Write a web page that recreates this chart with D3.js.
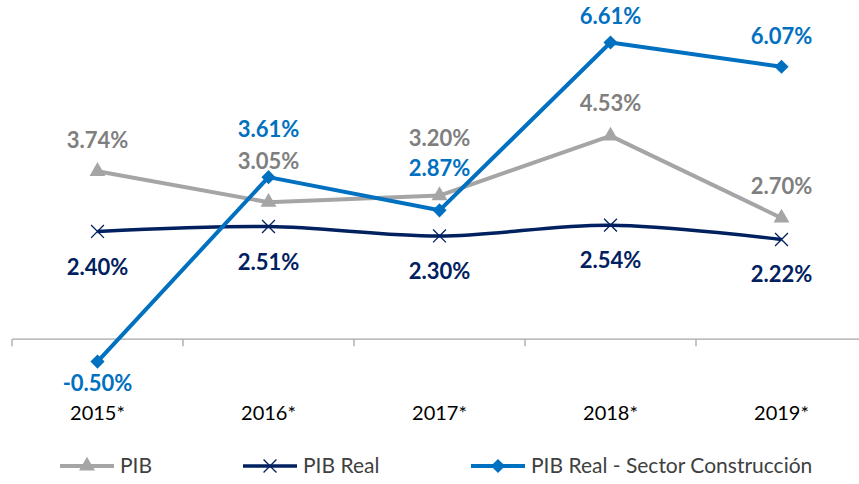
<!DOCTYPE html>
<html lang="es">
<head>
<meta charset="utf-8">
<title>PIB vs PIB Construcción</title>
<script src="https://d3js.org/d3.v7.min.js"></script>
<style>
  body { margin: 0; background: #fff; }
  text { font-family: Lato, "Open Sans", sans-serif; }
</style>
</head>
<body>
<div id="chart"></div>
<script>
// data
var years = ["2015*", "2016*", "2017*", "2018*", "2019*"];
var pib = [3.74, 3.05, 3.20, 4.53, 2.70];
var pibReal = [2.40, 2.51, 2.30, 2.54, 2.22];
var pibConstruccion = [-0.50, 3.61, 2.87, 6.61, 6.07];
var seriesNames = ["PIB", "PIB Real", "PIB Real - Sector Construcción"];

// manual label nudges (px) like in the original sheet
var pibDy = [-31, -41, -58, -33, -32];
var realDy = [36, 36, 35, 35, 34];
var consDy = [21, -48, -42, -27, -31];

var W = 859, H = 484;
var svg = d3.select("#chart").append("svg")
  .attr("width", W).attr("height", H);

var x = d3.scaleBand().domain(years).range([12, 867]);
var y = d3.scaleLinear().domain([-1, 7]).range([384, 25]);
var cx = function(i) { return x(years[i]) + x.bandwidth() / 2; };

// x axis
var axis = svg.append("g").attr("transform", "translate(0," + y(0) + ")");
axis.append("line").attr("x1", 12).attr("x2", W).attr("stroke", "#a6a6a6").attr("stroke-width", 1.3);
axis.selectAll(".tk").data(years.concat(["end"])).enter().append("line")
  .attr("x1", function(d, i) { return 12 + i * x.bandwidth(); })
  .attr("x2", function(d, i) { return 12 + i * x.bandwidth(); })
  .attr("y1", 0).attr("y2", 7)
  .attr("stroke", "#a6a6a6").attr("stroke-width", 1.3);

svg.selectAll(".cat").data(years).enter().append("text")
  .attr("x", function(d, i) { return cx(i); })
  .attr("y", 420)
  .attr("text-anchor", "middle")
  .attr("font-size", 20)
  .attr("fill", "#000")
  .text(function(d) { return d; });

var triangle = d3.symbol().type(d3.symbolTriangle).size(110);
var diamond = d3.symbol().type(d3.symbolSquare).size(100);
var cross = d3.symbol().type(d3.symbolTimes).size(110);

function drawLine(vals, color, width, curve) {
  var line = d3.line()
    .x(function(d, i) { return cx(i); })
    .y(function(d) { return y(d); })
    .curve(curve);
  svg.append("path").datum(vals)
    .attr("d", line)
    .attr("fill", "none")
    .attr("stroke", color)
    .attr("stroke-width", width)
    .attr("stroke-linejoin", "round");
}

function drawLabels(vals, dys, color) {
  svg.selectAll(null).data(vals).enter().append("text")
    .attr("x", function(d, i) { return cx(i); })
    .attr("y", function(d, i) { return y(d) + dys[i] + 8; })
    .attr("text-anchor", "middle")
    .attr("font-size", 22)
    .attr("font-weight", "bold")
    .attr("fill", color)
    .text(function(d) { return d.toFixed(2) + "%"; });
}

// PIB
drawLine(pib, "#a5a5a5", 4, d3.curveLinear);
svg.selectAll(null).data(pib).enter().append("path")
  .attr("d", triangle)
  .attr("transform", function(d, i) { return "translate(" + cx(i) + "," + y(d) + ")"; })
  .attr("fill", "#a5a5a5");

// PIB Real
drawLine(pibReal, "#002060", 3.5, d3.curveCatmullRom);
svg.selectAll(null).data(pibReal).enter().append("path")
  .attr("d", cross)
  .attr("transform", function(d, i) { return "translate(" + cx(i) + "," + y(d) + ")"; })
  .attr("fill", "none").attr("stroke", "#002060").attr("stroke-width", 1.3);

// Construcción
drawLine(pibConstruccion, "#0070c0", 4, d3.curveLinear);
svg.selectAll(null).data(pibConstruccion).enter().append("path")
  .attr("d", diamond)
  .attr("transform", function(d, i) { return "translate(" + cx(i) + "," + y(d) + ") rotate(45)"; })
  .attr("fill", "#0070c0");

drawLabels(pib, pibDy, "#7f7f7f");
drawLabels(pibReal, realDy, "#002060");
drawLabels(pibConstruccion, consDy, "#0070c0");

// legend
var legend = [
  { name: seriesNames[0], color: "#a5a5a5", sym: triangle, x0: 60, fill: true, w: 4, rot: 0 },
  { name: seriesNames[1], color: "#002060", sym: cross, x0: 243, fill: false, w: 3.5, rot: 0 },
  { name: seriesNames[2], color: "#0070c0", sym: diamond, x0: 471, fill: true, w: 4, rot: 45 }
];
var lg = svg.selectAll(".lg").data(legend).enter().append("g")
  .attr("transform", function(d) { return "translate(" + d.x0 + ",466)"; });
lg.append("line").attr("x1", 0).attr("x2", 54)
  .attr("stroke", function(d) { return d.color; })
  .attr("stroke-width", function(d) { return d.w; });
lg.append("path")
  .attr("d", function(d) { return d.sym(); })
  .attr("transform", function(d) { return "translate(27,0) rotate(" + d.rot + ")"; })
  .attr("fill", function(d) { return d.fill ? d.color : "none"; })
  .attr("stroke", function(d) { return d.fill ? "none" : d.color; })
  .attr("stroke-width", 1.3);
lg.append("text")
  .attr("x", 60).attr("y", 7)
  .attr("font-size", 21)
  .attr("fill", "#404040")
  .text(function(d) { return d.name; });
</script>
</body>
</html>
